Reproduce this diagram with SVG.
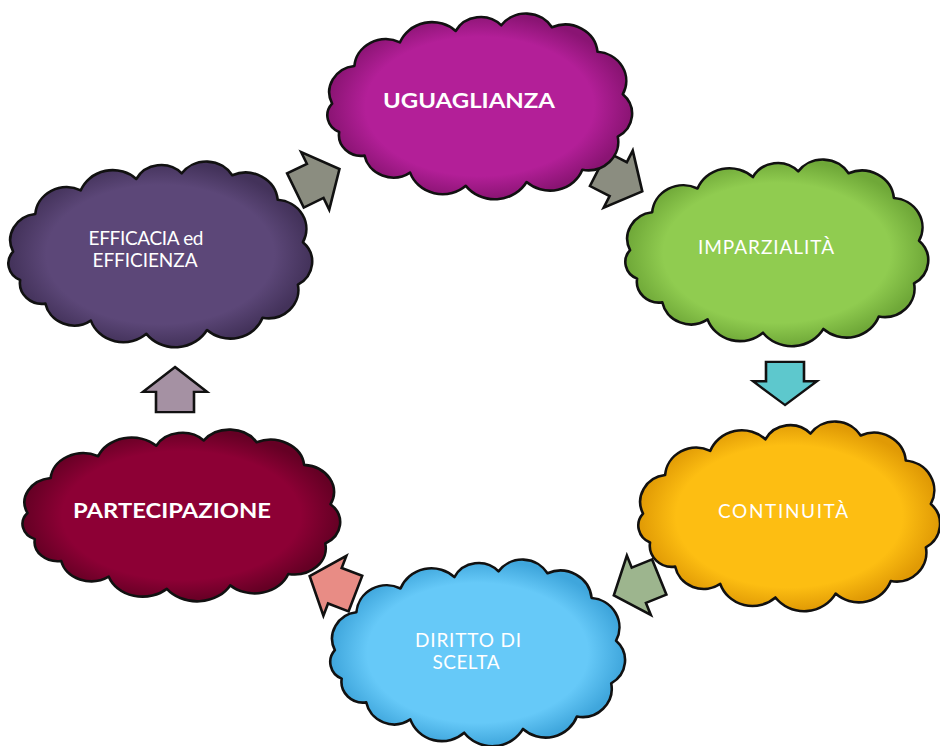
<svg xmlns="http://www.w3.org/2000/svg" xmlns:xlink="http://www.w3.org/1999/xlink" width="940" height="746" viewBox="0 0 940 746">
<style>
.cl{stroke:#111;stroke-width:2.6;stroke-linejoin:round}
.ar{stroke:#111;stroke-width:2.6;stroke-linejoin:miter}
.t{font-family:"Lato","Open Sans","Liberation Sans",sans-serif;fill:#fff;text-anchor:middle}
.b{font-weight:bold;font-size:21px}
.r{font-size:19px}
</style>
<defs>
<path id="cloud" vector-effect="non-scaling-stroke" d="M8,95 A28,28 0 0 1 30,55 A31,31 0 0 1 75,30 A34,34 0 0 1 130,18 A28,28 0 0 1 175,12 A30,30 0 0 1 225,14 A32,32 0 0 1 270,40 A31,31 0 0 1 295,85 A28,28 0 0 1 290,130 A30,30 0 0 1 255,165 A34,34 0 0 1 200,178 A36,36 0 0 1 140,182 A34,34 0 0 1 85,168 A29,29 0 0 1 40,150 A22,22 0 0 1 15,125 A19,19 0 0 1 8,95 Z"/>
<path id="arrow" d="M0,-25 L32,2 L19,2 L19,24 L-19,24 L-19,2 L-32,2 Z"/>
<radialGradient id="gM"><stop offset="0.75" stop-color="#B31F98"/><stop offset="1" stop-color="#8A1473"/></radialGradient>
<radialGradient id="gG"><stop offset="0.75" stop-color="#90CC50"/><stop offset="1" stop-color="#6FA838"/></radialGradient>
<radialGradient id="gY"><stop offset="0.75" stop-color="#FDBE12"/><stop offset="1" stop-color="#E09A05"/></radialGradient>
<radialGradient id="gB"><stop offset="0.75" stop-color="#66C9F8"/><stop offset="1" stop-color="#3FA6DC"/></radialGradient>
<radialGradient id="gR"><stop offset="0.75" stop-color="#8D0035"/><stop offset="1" stop-color="#650024"/></radialGradient>
<radialGradient id="gP"><stop offset="0.75" stop-color="#5C4778"/><stop offset="1" stop-color="#43325A"/></radialGradient>
</defs>

<g id="connectors">
<use xlink:href="#arrow" class="ar" fill="#8B8D80" transform="translate(317,180) rotate(64)"/>
<use xlink:href="#arrow" class="ar" fill="#8B8D80" transform="translate(620,180) rotate(117)"/>
<use xlink:href="#arrow" class="ar" fill="#5DC8CD" transform="translate(785,383) rotate(180) scale(1,0.88)"/>
<use xlink:href="#arrow" class="ar" fill="#9DB58E" transform="translate(637,586) rotate(-112)"/>
<use xlink:href="#arrow" class="ar" fill="#E88C85" transform="translate(333,585) rotate(-69)"/>
<use xlink:href="#arrow" class="ar" fill="#A591A3" transform="translate(175,390) scale(1,0.92)"/>
</g>

<g id="uguaglianza">
<use xlink:href="#cloud" class="cl" fill="url(#gM)" transform="translate(324,14) scale(1.013,0.944)"/>
<text class="t b" x="469" y="108" textLength="172" lengthAdjust="spacingAndGlyphs">UGUAGLIANZA</text>
</g>

<g id="imparzialita">
<use xlink:href="#cloud" class="cl" fill="url(#gG)" transform="translate(622,160) scale(1.007,0.949)"/>
<text class="t r" x="766" y="254" textLength="136">IMPARZIALITÀ</text>
</g>

<g id="continuita">
<use xlink:href="#cloud" class="cl" fill="url(#gY)" transform="translate(635,422) scale(1.003,0.964)"/>
<text class="t r" x="783" y="518" textLength="130">CONTINUITÀ</text>
</g>

<g id="diritto-di-scelta">
<use xlink:href="#cloud" class="cl" fill="url(#gB)" transform="translate(327,560) scale(0.98,0.949)"/>
<text class="t r" x="468" y="647" textLength="106">DIRITTO DI</text>
<text class="t r" x="466" y="669" textLength="67">SCELTA</text>
</g>

<g id="partecipazione">
<use xlink:href="#cloud" class="cl" fill="url(#gR)" transform="translate(19,430) scale(1.056,0.873)"/>
<text class="t b" x="172" y="518" textLength="198" lengthAdjust="spacingAndGlyphs">PARTECIPAZIONE</text>
</g>

<g id="efficacia-efficienza">
<use xlink:href="#cloud" class="cl" fill="url(#gP)" transform="translate(5,162) scale(1.01,0.944)"/>
<text class="t r" x="146" y="245" textLength="115">EFFICACIA ed</text>
<text class="t r" x="145" y="267" textLength="105">EFFICIENZA</text>
</g>
</svg>
